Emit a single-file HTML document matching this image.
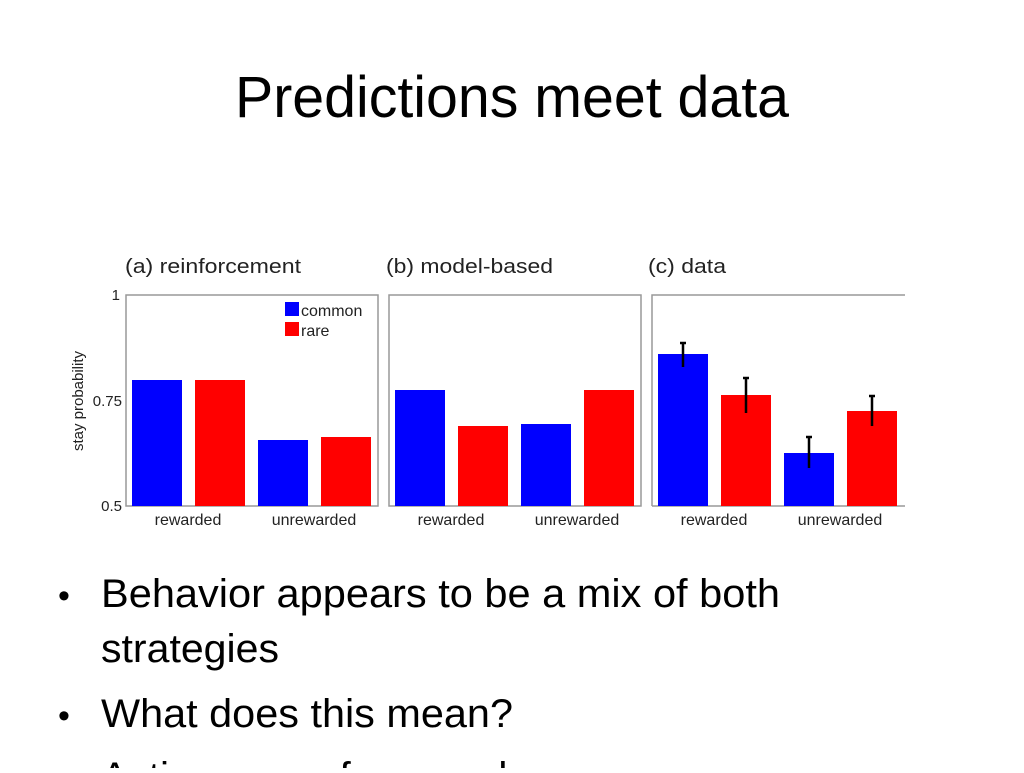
<!DOCTYPE html>
<html><head><style>html,body{margin:0;padding:0;background:#fff;overflow:hidden}</style></head>
<body>
<svg width="1024" height="768" xmlns="http://www.w3.org/2000/svg" font-family="Liberation Sans, sans-serif">
<rect width="1024" height="768" fill="#fff"/>
<text x="235" y="117" font-size="58" textLength="554" lengthAdjust="spacingAndGlyphs" fill="#000">Predictions meet data</text>

<g font-size="20" fill="#222">
<text x="125" y="273" textLength="176" lengthAdjust="spacingAndGlyphs">(a) reinforcement</text>
<text x="386" y="273" textLength="167" lengthAdjust="spacingAndGlyphs">(b) model-based</text>
<text x="648" y="273" textLength="78" lengthAdjust="spacingAndGlyphs">(c) data</text>
</g>
<g fill="none" stroke="#999" stroke-width="1.5">
<rect x="126" y="295" width="252" height="211"/>
<rect x="389" y="295" width="252" height="211"/>
<path d="M652 506 V295 H905 M652 506 H905"/>
</g>
<g font-size="15" fill="#222">
<text x="120" y="300" text-anchor="end">1</text>
<text x="122" y="406" text-anchor="end">0.75</text>
<text x="122" y="511" text-anchor="end">0.5</text>
<text x="188" y="525" text-anchor="middle" font-size="16">rewarded</text>
<text x="314" y="525" text-anchor="middle" font-size="16">unrewarded</text>
<text x="451" y="525" text-anchor="middle" font-size="16">rewarded</text>
<text x="577" y="525" text-anchor="middle" font-size="16">unrewarded</text>
<text x="714" y="525" text-anchor="middle" font-size="16">rewarded</text>
<text x="840" y="525" text-anchor="middle" font-size="16">unrewarded</text>
<text transform="translate(83,401) rotate(-90)" text-anchor="middle">stay probability</text>
</g>
<!-- panel a -->
<rect x="132" y="380" width="50" height="126" fill="#0000ff"/>
<rect x="195" y="380" width="50" height="126" fill="#ff0000"/>
<rect x="258" y="440" width="50" height="66" fill="#0000ff"/>
<rect x="321" y="437" width="50" height="69" fill="#ff0000"/>
<rect x="285" y="302" width="14" height="14" fill="#0000ff"/>
<rect x="285" y="322" width="14" height="14" fill="#ff0000"/>
<text x="301" y="316" font-size="16" fill="#222">common</text>
<text x="301" y="336" font-size="16" fill="#222">rare</text>
<!-- panel b -->
<rect x="395" y="390" width="50" height="116" fill="#0000ff"/>
<rect x="458" y="426" width="50" height="80" fill="#ff0000"/>
<rect x="521" y="424" width="50" height="82" fill="#0000ff"/>
<rect x="584" y="390" width="50" height="116" fill="#ff0000"/>
<!-- panel c -->
<rect x="658" y="354" width="50" height="152" fill="#0000ff"/>
<rect x="721" y="395" width="50" height="111" fill="#ff0000"/>
<rect x="784" y="453" width="50" height="53" fill="#0000ff"/>
<rect x="847" y="411" width="50" height="95" fill="#ff0000"/>
<g stroke="#000" stroke-width="2.5">
<path d="M683 343 V367 M680 343 H686"/>
<path d="M746 378 V413 M743 378 H749"/>
<path d="M809 437 V468 M806 437 H812"/>
<path d="M872 396 V426 M869 396 H875"/>
</g>

<g font-size="40" fill="#000">
<text x="58" y="607" font-size="34">•</text>
<text x="101" y="607" textLength="679" lengthAdjust="spacingAndGlyphs">Behavior appears to be a mix of both</text>
<text x="101" y="662" textLength="178" lengthAdjust="spacingAndGlyphs">strategies</text>
<text x="58" y="727" font-size="34">•</text>
<text x="101" y="727" textLength="412" lengthAdjust="spacingAndGlyphs">What does this mean?</text>
<text x="58" y="790" font-size="34">•</text>
<text x="101" y="790" textLength="420" lengthAdjust="spacingAndGlyphs">Active area of research</text>
</g>
</svg>
</body></html>
